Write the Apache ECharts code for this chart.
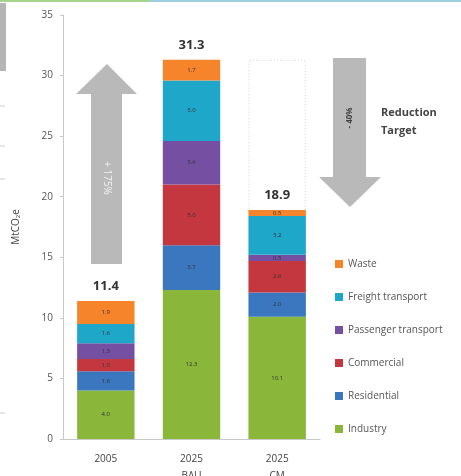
<!DOCTYPE html>
<html>
<head>
    <meta charset="utf-8">
    <title>ECharts</title>
    <script src="https://cdn.jsdelivr.net/npm/echarts@6/dist/echarts.min.js"></script>
    <style>
      body { padding: 0; margin: 0; background: #fff; }
      #main { width: 461px; height: 476px; }
    </style>
</head>
<body>
  <div id="main"></div>
  <script type="text/javascript">
    var categories = ['2005', '2025\nBAU', '2025\nCM']
    var sectors = ['Industry', 'Residential', 'Commercial', 'Passenger transport', 'Freight transport', 'Waste']
    var industry = [4.0, 12.3, 10.1]
    var residential = [1.6, 3.7, 2.0]
    var commercial = [1.0, 5.0, 2.6]
    var passenger = [1.3, 3.6, 0.5]
    var freight = [1.6, 5.0, 3.2]
    var waste = [1.9, 1.7, 0.5]
    var totals = [11.4, 31.3, 18.9]
    var bauLevel = [null, null, 31.3]

    var colors = ['#8ab73a', '#3b77be', '#c4373f', '#7550a2', '#1fa7c9', '#f5842a']
    var values = [industry, residential, commercial, passenger, freight, waste]

    var main = document.getElementById('main')
    var myChart = echarts.init(main)
    var font = 'Open Sans'

    var series = [{
      name: 'bau',
      type: 'bar',
      data: bauLevel,
      barGap: '-100%',
      barCategoryGap: '33%',
      z: 1,
      silent: true,
      itemStyle: { color: 'rgba(0,0,0,0)', borderColor: '#d4d4d4', borderWidth: 1, borderType: [1, 2] }
    }, {
      name: 'total',
      type: 'bar',
      data: totals,
      barGap: '-100%',
      z: 1,
      silent: true,
      itemStyle: { color: 'rgba(0,0,0,0)' },
      label: {
        show: true, position: 'top', distance: 8,
        fontFamily: font, fontSize: 13, fontWeight: 'bold', color: '#333',
        formatter: function (p) { return p.value.toFixed(1) }
      }
    }]
    sectors.forEach(function (s, i) {
      series.push({
        name: s,
        type: 'bar',
        stack: 'total',
        data: values[i],
        barGap: '-100%',
        z: 3,
        itemStyle: { color: colors[i] },
        label: {
          show: true, position: 'inside',
          fontFamily: font, fontSize: 6, color: '#333',
          formatter: function (p) { return p.value.toFixed(1) }
        }
      })
    })

    var option = {
      animation: false,
      backgroundColor: '#fff',
      grid: { left: 63, right: 141, top: 15, bottom: 37, outerBoundsMode: 'none' },
      legend: {
        orient: 'vertical',
        left: 330, top: 254,
        itemWidth: 8, itemHeight: 8, itemGap: 23,
        icon: 'rect',
        data: sectors.slice().reverse(),
        textStyle: { fontFamily: font, fontSize: 10, color: '#555' }
      },
      xAxis: {
        type: 'category',
        data: categories,
        axisLine: { lineStyle: { color: '#c8c8c8' } },
        axisTick: { show: false },
        axisLabel: { fontFamily: font, fontSize: 10, color: '#444', margin: 12, lineHeight: 17 }
      },
      yAxis: {
        type: 'value',
        min: 0, max: 35, interval: 5,
        name: 'MtCO₂e',
        nameLocation: 'middle',
        nameGap: 42,
        nameTextStyle: { fontFamily: font, fontSize: 10, color: '#444' },
        axisLine: { show: true, lineStyle: { color: '#c8c8c8' } },
        axisTick: { show: true, length: 3, lineStyle: { color: '#c8c8c8' } },
        splitLine: { show: false },
        axisLabel: { fontFamily: font, fontSize: 10, color: '#555', margin: 10 }
      },
      graphic: [
        // cropped edge of the slide
        { type: 'rect', shape: { x: 0, y: 0, width: 150, height: 2 }, style: { fill: '#a6d48a' } },
        { type: 'rect', shape: { x: 150, y: 0, width: 311, height: 2 }, style: { fill: '#9ccfe0' } },
        { type: 'rect', shape: { x: 0, y: 3, width: 6, height: 68 }, style: { fill: '#b5b5b5' } },
        { type: 'line', shape: { x1: 0, y1: 106, x2: 5, y2: 106 }, style: { stroke: '#ccc' } },
        { type: 'line', shape: { x1: 0, y1: 146, x2: 5, y2: 146 }, style: { stroke: '#ccc' } },
        { type: 'line', shape: { x1: 0, y1: 179, x2: 5, y2: 179 }, style: { stroke: '#ccc' } },
        { type: 'line', shape: { x1: 0, y1: 413, x2: 5, y2: 413 }, style: { stroke: '#ccc' } },
        // up arrow
        {
          type: 'polygon', z: 0,
          shape: { points: [[107, 64], [137, 94], [122, 94], [122, 264], [91, 264], [91, 94], [76, 94]] },
          style: { fill: '#b9b9b9' }
        },
        {
          type: 'text', x: 107, y: 178, rotation: -Math.PI / 2,
          style: { text: '+ 175%', fill: '#f2f2f2', font: '10px "Open Sans"', align: 'center', verticalAlign: 'middle' }
        },
        // down arrow
        {
          type: 'polygon', z: 0,
          shape: { points: [[333, 58], [366, 58], [366, 177], [381, 177], [350, 207], [319, 177], [333, 177]] },
          style: { fill: '#b9b9b9' }
        },
        {
          type: 'text', x: 350, y: 118, rotation: Math.PI / 2,
          style: { text: '- 40%', fill: '#444', font: 'bold 8px "Open Sans"', align: 'center', verticalAlign: 'middle' }
        },
        {
          type: 'text', x: 381, y: 104,
          style: { text: 'Reduction\nTarget', fill: '#444', font: 'bold 11px "Open Sans"', lineHeight: 18 }
        }
      ],
      series: series
    }
    myChart.setOption(option)
  </script>
</body>
</html>
